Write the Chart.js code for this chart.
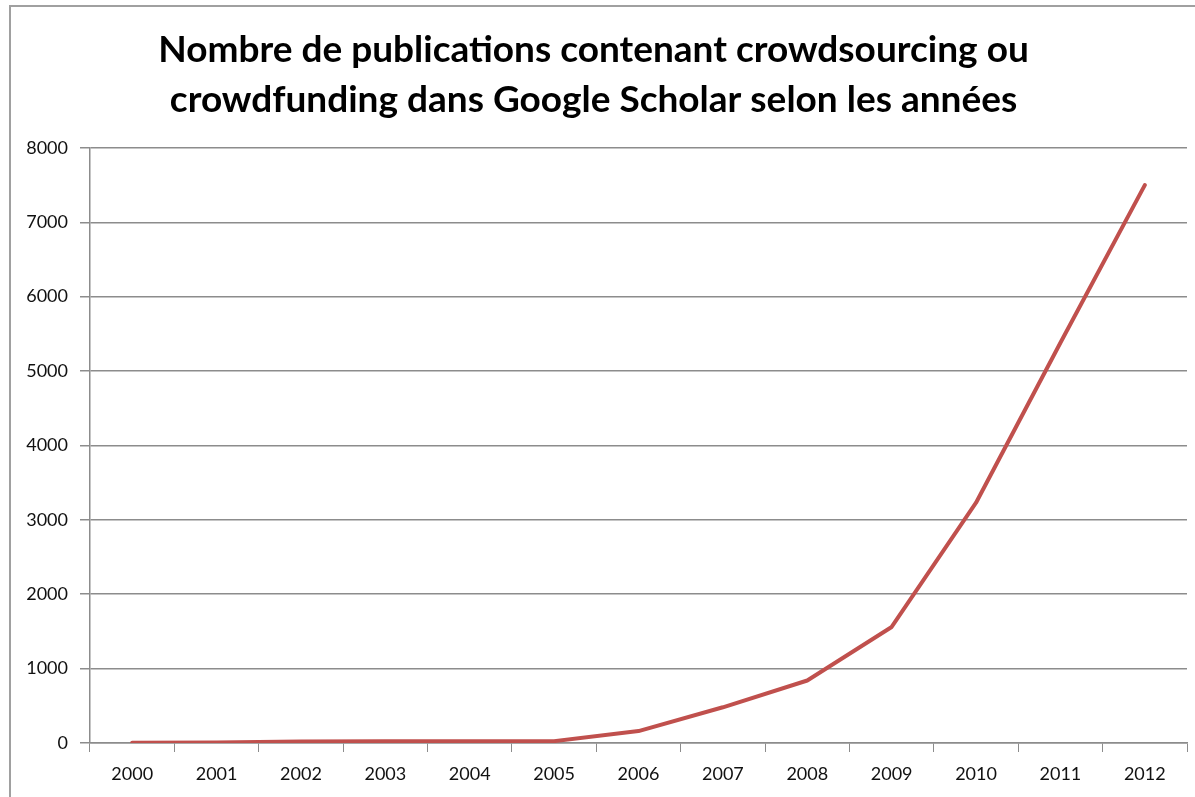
<!DOCTYPE html>
<html>
<head>
<meta charset="utf-8">
<script src="https://cdn.jsdelivr.net/npm/chart.js@4/dist/chart.umd.min.js"></script>
<style>
	html, body { margin: 0; padding: 0; background: #fff; overflow: hidden; }
	#frame {
		position: absolute; left: 9px; top: 5px; width: 1300px; height: 900px;
		border-left: 2px solid #a0a0a0; border-top: 2px solid #a0a0a0;
	}
	#wrap { position: absolute; left: 0; top: 0; width: 1195px; height: 797px; }
</style>
</head>
<body>
<div id="frame"></div>
<div id="wrap"><canvas id="chart"></canvas></div>
<script>
//
// Publications line chart
//

var years = ['2000', '2001', '2002', '2003', '2004', '2005', '2006',
	'2007', '2008', '2009', '2010', '2011', '2012'];
var publications = [5, 8, 20, 22, 22, 25, 160, 480, 840, 1560, 3230, 5380, 7500];
var yTicks = [0, 1000, 2000, 3000, 4000, 5000, 6000, 7000, 8000];
var titleLines = ['Nombre de publications contenant crowdsourcing ou',
	'crowdfunding dans Google Scholar selon les années'];

var axisColor = '#8c8c8c';
var font = 'Lato, "Open Sans", sans-serif';

new Chart(document.getElementById('chart'), {
	type: 'line',
	data: {
		labels: years,
		datasets: [{
			label: 'Publications',
			data: publications,
			borderColor: '#C0504D',
			borderWidth: 4,
			tension: 0,
			pointRadius: 0,
			borderCapStyle: 'round',
			borderJoinStyle: 'round'
		}]
	},
	options: {
		responsive: true,
		maintainAspectRatio: false,
		animation: false,
		layout: { padding: { left: 0, right: 8, top: 0, bottom: 0 } },
		plugins: {
			legend: { display: false },
			tooltip: { enabled: false },
			title: {
				display: true,
				text: titleLines,
				color: '#000',
				font: { family: font, size: 37, weight: 'bold', lineHeight: 1.35 },
				padding: { top: 25, bottom: 23 }
			}
		},
		scales: {
			x: {
				offset: true,
				grid: {
					offset: true,
					drawOnChartArea: false,
					drawTicks: true,
					tickLength: 9,
					color: axisColor
				},
				border: { color: axisColor, width: 1.5 },
				ticks: { color: '#111', font: { family: font, size: 18 }, padding: 11, maxRotation: 0 },
				afterFit: function(scale) { scale.height = 54; }
			},
			y: {
				min: 0,
				max: 8000,
				afterBuildTicks: function(scale) {
					scale.ticks = yTicks.map(function(v) { return { value: v }; });
				},
				grid: {
					color: axisColor,
					lineWidth: 1.5,
					drawTicks: true,
					tickLength: 10
				},
				border: { color: axisColor, width: 1.5 },
				ticks: {
					color: '#111',
					font: { family: font, size: 18 },
					padding: 12,
					callback: function(value) { return String(value); }
				},
				afterFit: function(scale) { scale.width = 90; }
			}
		}
	}
});
</script>
</body>
</html>
